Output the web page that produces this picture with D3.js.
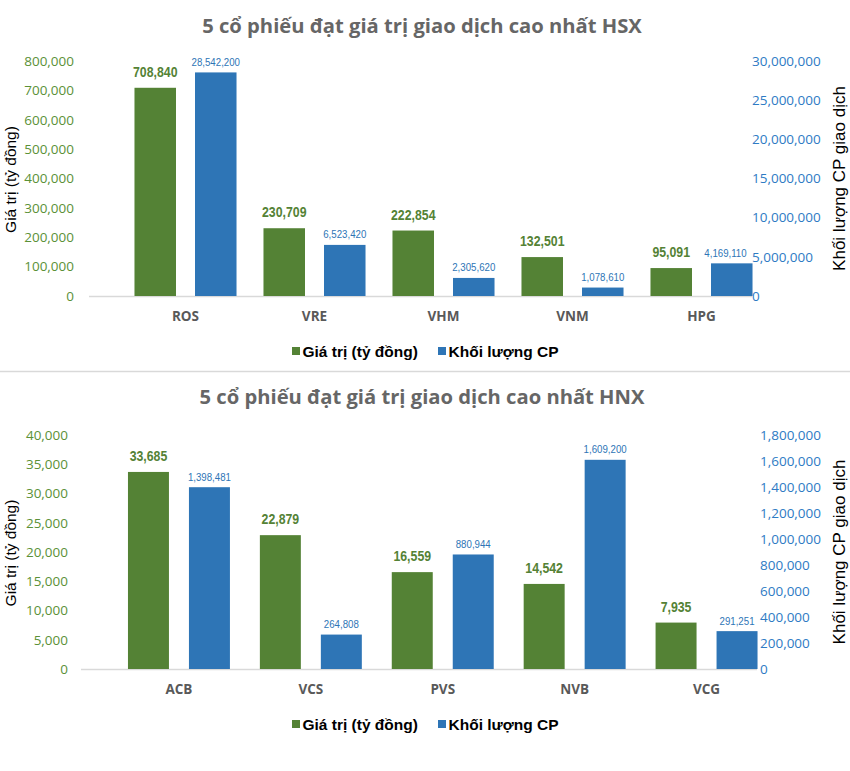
<!DOCTYPE html>
<html><head><meta charset="utf-8">
<script src="https://cdn.jsdelivr.net/npm/d3@7"></script>
<style>
html,body{margin:0;padding:0;background:#fff;}
svg{display:block;}
</style></head>
<body>
<svg id="chart" width="850" height="771"></svg>
<script>
// ---------- DATA ----------
const hsxTitle = "5 cổ phiếu đạt giá trị giao dịch cao nhất HSX";
const hsxCategories = ["ROS", "VRE", "VHM", "VNM", "HPG"];
const hsxValue = [708840, 230709, 222854, 132501, 95091];
const hsxVolume = [28542200, 6523420, 2305620, 1078610, 4169110];
const hsxValueTicks = [0, 100000, 200000, 300000, 400000, 500000, 600000, 700000, 800000];
const hsxVolumeTicks = [0, 5000000, 10000000, 15000000, 20000000, 25000000, 30000000];

const hnxTitle = "5 cổ phiếu đạt giá trị giao dịch cao nhất HNX";
const hnxCategories = ["ACB", "VCS", "PVS", "NVB", "VCG"];
const hnxValue = [33685, 22879, 16559, 14542, 7935];
const hnxVolume = [1398481, 264808, 880944, 1609200, 291251];
const hnxValueTicks = [0, 5000, 10000, 15000, 20000, 25000, 30000, 35000, 40000];
const hnxVolumeTicks = [0, 200000, 400000, 600000, 800000, 1000000, 1200000, 1400000, 1600000, 1800000];

const seriesNames = ["Giá trị (tỷ đồng)", "Khối lượng CP"];
const leftAxisTitle = "Giá trị (tỷ đồng)";
const rightAxisTitle = "Khối lượng CP giao dịch";

// ---------- STYLE ----------
const GREEN = "#548235", BLUE = "#2e75b6";
const TICK_GREEN = "#5b9137", TICK_BLUE = "#2e7bc4";
const fmt = d3.format(",");
const svg = d3.select("#chart");

// condense text like a narrow face
function narrow(sel, f) {
  sel.each(function () {
    const w = this.getComputedTextLength();
    d3.select(this).attr("textLength", w * f).attr("lengthAdjust", "spacingAndGlyphs");
  });
}

function panel(cfg) {
  const g = svg.append("g");
  const yL = d3.scaleLinear().domain([0, d3.max(cfg.leftTicks)]).range([cfg.y0, cfg.yTop]);
  const yR = d3.scaleLinear().domain([0, d3.max(cfg.rightTicks)]).range([cfg.y0, cfg.yTop]);
  const x = d3.scaleBand().domain(cfg.cats).range(cfg.xRange).paddingInner(cfg.pad).paddingOuter(cfg.pad / 2);
  const xs = d3.scaleBand().domain(["v", "q"]).range([0, x.bandwidth()]).paddingInner(cfg.subPad);

  // title
  g.append("text").attr("x", 422).attr("y", cfg.titleY).attr("text-anchor", "middle")
    .style("font-family", "'Open Sans', sans-serif").style("font-weight", 700)
    .style("font-size", "20.2px").style("fill", "#666").text(cfg.title);

  // baseline
  g.append("line").attr("x1", cfg.lineX[0]).attr("x2", cfg.lineX[1])
    .attr("y1", cfg.y0 + 0.5).attr("y2", cfg.y0 + 0.5).style("stroke", "#d9d9d9").style("stroke-width", 1.3);

  // left axis
  const la = g.append("g").attr("transform", `translate(${cfg.leftX},0)`)
    .call(d3.axisLeft(yL).tickValues(cfg.leftTicks).tickSize(0).tickPadding(0).tickFormat(fmt));
  la.select(".domain").remove();
  la.selectAll("text").style("font-family", "'Open Sans', sans-serif").style("font-size", "13.5px").style("fill", TICK_GREEN);

  // right axis
  const ra = g.append("g").attr("transform", `translate(${cfg.rightX},0)`)
    .call(d3.axisRight(yR).tickValues(cfg.rightTicks).tickSize(0).tickPadding(0).tickFormat(fmt));
  ra.select(".domain").remove();
  ra.selectAll("text").style("font-family", "'Open Sans', sans-serif").style("font-size", "13.5px").style("fill", TICK_BLUE);

  // axis titles
  const midY = (cfg.y0 + cfg.yTop) / 2;
  g.append("text").attr("transform", `translate(16,${midY + 1}) rotate(-90)`).attr("text-anchor", "middle")
    .style("font-family", "'Liberation Sans', Arial, sans-serif").style("font-size", "15.5px").style("fill", "#000")
    .text(leftAxisTitle);
  g.append("text").attr("transform", `translate(845,${midY}) rotate(-90)`).attr("text-anchor", "middle")
    .style("font-family", "'Liberation Sans', Arial, sans-serif").style("font-size", "17px").style("fill", "#000")
    .text(rightAxisTitle);

  // bars
  const groups = g.selectAll(".grp").data(cfg.cats).join("g")
    .attr("transform", d => `translate(${x(d)},0)`);
  groups.append("rect").attr("x", xs("v")).attr("width", xs.bandwidth())
    .attr("y", (d, i) => yL(cfg.value[i])).attr("height", (d, i) => cfg.y0 - yL(cfg.value[i]))
    .style("fill", GREEN);
  groups.append("rect").attr("x", xs("q")).attr("width", xs.bandwidth())
    .attr("y", (d, i) => yR(cfg.volume[i])).attr("height", (d, i) => cfg.y0 - yR(cfg.volume[i]))
    .style("fill", BLUE);

  // data labels
  groups.append("text").attr("x", xs("v") + xs.bandwidth() / 2).attr("y", (d, i) => yL(cfg.value[i]) - 11)
    .attr("text-anchor", "middle")
    .style("font-family", "'Liberation Sans', Arial, sans-serif").style("font-weight", 700)
    .style("font-size", "15px").style("fill", GREEN).text((d, i) => fmt(cfg.value[i]))
    .call(narrow, 0.82);
  const blueLabels = groups.append("text").attr("x", xs("q") + xs.bandwidth() / 2).attr("y", (d, i) => yR(cfg.volume[i]) - 6.5)
    .attr("text-anchor", "middle")
    .style("font-family", "'Liberation Sans', Arial, sans-serif")
    .style("font-size", "11.8px").style("fill", BLUE).text((d, i) => fmt(cfg.volume[i]))
    .call(narrow, 0.82);

  // keep blue labels clear of the right-axis tick labels
  const tickBoxes = [];
  ra.selectAll("text").each(function () { tickBoxes.push(this.getBoundingClientRect()); });
  const GAP = 5;
  blueLabels.each(function () {
    const b = this.getBoundingClientRect();
    tickBoxes.forEach(t => {
      const vOverlap = b.bottom + 2 > t.top && b.top - 2 < t.bottom;
      if (vOverlap && b.right > t.left - GAP) {
        const shift = b.right - (t.left - GAP);
        d3.select(this).attr("x", +d3.select(this).attr("x") - shift);
      }
    });
  });

  // category labels
  groups.append("text").attr("x", x.bandwidth() / 2).attr("y", cfg.y0 + 25).attr("text-anchor", "middle")
    .style("font-family", "'Open Sans', sans-serif").style("font-weight", 700)
    .style("font-size", "13.5px").style("fill", "#595959").text(d => d);

  // legend
  const ly = cfg.y0 + 61;
  const legend = [{ name: seriesNames[0], color: GREEN, x: 292 }, { name: seriesNames[1], color: BLUE, x: 438 }];
  legend.forEach(l => {
    g.append("rect").attr("x", l.x).attr("y", ly - 10).attr("width", 8).attr("height", 8).style("fill", l.color);
    g.append("text").attr("x", l.x + 10.5).attr("y", ly).style("font-family", "'Liberation Sans', Arial, sans-serif")
      .style("font-weight", 700).style("font-size", "15.5px").style("fill", "#000").text(l.name);
  });
}

panel({
  title: hsxTitle, titleY: 33, cats: hsxCategories, value: hsxValue, volume: hsxVolume,
  leftTicks: hsxValueTicks, rightTicks: hsxVolumeTicks,
  y0: 296, yTop: 61, xRange: [121, 766], pad: 0.209, subPad: 0.314,
  lineX: [89, 752], leftX: 74, rightX: 752
});

svg.append("line").attr("x1", 0).attr("x2", 850).attr("y1", 371.5).attr("y2", 371.5)
  .style("stroke", "#d9d9d9").style("stroke-width", 1.5);

panel({
  title: hnxTitle, titleY: 404, cats: hnxCategories, value: hnxValue, volume: hnxVolume,
  leftTicks: hnxValueTicks, rightTicks: hnxVolumeTicks,
  y0: 669, yTop: 435, xRange: [113, 772.5], pad: 0.227, subPad: 0.328,
  lineX: [81, 757], leftX: 68, rightX: 760
});
</script>
</body></html>
